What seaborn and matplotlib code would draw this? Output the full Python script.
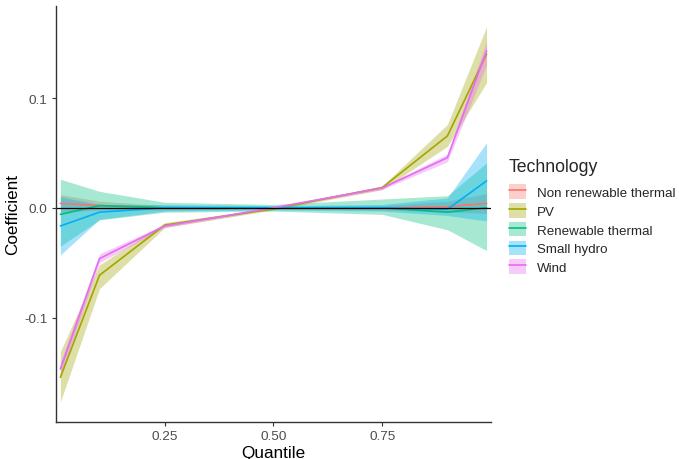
import matplotlib
matplotlib.use("Agg")
import matplotlib.pyplot as plt
from matplotlib.patches import Patch
from matplotlib.lines import Line2D
import pandas as pd
import seaborn as sns

quantiles = [0.01, 0.1, 0.25, 0.5, 0.75, 0.9, 0.99]
technologies = ["Non renewable thermal", "PV", "Renewable thermal", "Small hydro", "Wind"]

nrt_coef = [0.004, 0.002, 0.0, 0.0, 0.0, 0.001, 0.004]
nrt_low = [-0.004, -0.002, -0.002, -0.001, -0.002, -0.004, -0.005]
nrt_high = [0.012, 0.006, 0.002, 0.001, 0.002, 0.006, 0.013]

pv_coef = [-0.1545, -0.0615, -0.0157, -0.001, 0.0184, 0.0655, 0.140]
pv_low = [-0.177, -0.0737, -0.018, -0.002, 0.0165, 0.056, 0.114]
pv_high = [-0.131, -0.052, -0.0135, 0.0, 0.020, 0.076, 0.165]

rt_coef = [-0.006, 0.002, 0.0, 0.0, 0.0, -0.004, 0.0]
rt_low = [-0.035, -0.011, -0.004, -0.003, -0.006, -0.020, -0.039]
rt_high = [0.026, 0.015, 0.005, 0.003, 0.008, 0.011, 0.041]

sh_coef = [-0.0166, -0.004, 0.0, 0.0, 0.0, -0.0014, 0.0245]
sh_low = [-0.043, -0.0105, -0.003, -0.002, -0.003, -0.007, -0.012]
sh_high = [0.010, 0.003, 0.003, 0.002, 0.003, 0.009, 0.0594]

wind_coef = [-0.147, -0.0463, -0.0166, 0.0, 0.018, 0.0457, 0.143]
wind_low = [-0.153, -0.050, -0.018, -0.001, 0.0168, 0.042, 0.130]
wind_high = [-0.141, -0.042, -0.0152, 0.001, 0.0192, 0.049, 0.152]

colors = ["#F8766D", "#A3A500", "#00BF7D", "#00B0F6", "#E76BF3"]

series = {
    "Non renewable thermal": (nrt_coef, nrt_low, nrt_high),
    "PV": (pv_coef, pv_low, pv_high),
    "Renewable thermal": (rt_coef, rt_low, rt_high),
    "Small hydro": (sh_coef, sh_low, sh_high),
    "Wind": (wind_coef, wind_low, wind_high),
}

rows = []
for tech in technologies:
    c, lo, hi = series[tech]
    for q, v, l, h in zip(quantiles, c, lo, hi):
        rows.append({"Quantile": q, "Coefficient": v, "low": l, "high": h, "Technology": tech})
df = pd.DataFrame(rows)

sns.set_style("white")
plt.rcParams["font.family"] = ["Liberation Sans", "DejaVu Sans"]

fig = plt.figure(figsize=(6.79, 4.6), dpi=100)
ax = fig.add_axes([0.0825, 0.081, 0.6405, 0.904])

palette = dict(zip(technologies, colors))
for tech in technologies:
    sub = df[df["Technology"] == tech]
    ax.fill_between(sub["Quantile"], sub["low"], sub["high"], color=palette[tech],
                    alpha=0.35, linewidth=0)

sns.lineplot(data=df, x="Quantile", y="Coefficient", hue="Technology",
             palette=palette, hue_order=technologies, linewidth=1.2,
             legend=False, ax=ax)

ax.axhline(0, color="black", linewidth=0.9)

ax.set_xlim(0.0, 1.0)
ax.set_ylim(-0.195, 0.184)
ax.set_xticks([0.25, 0.50, 0.75])
ax.set_xticklabels(["0.25", "0.50", "0.75"])
ax.set_yticks([-0.1, 0.0, 0.1])
ax.set_yticklabels(["-0.1", "0.0", "0.1"])
ax.tick_params(axis="both", direction="out", length=3, width=0.8, color="#333333",
               labelcolor="#4D4D4D", labelsize=9.7, pad=3, left=True, bottom=True)
for side in ["top", "right"]:
    ax.spines[side].set_visible(False)
for side in ["left", "bottom"]:
    ax.spines[side].set_color("#333333")
    ax.spines[side].set_linewidth(1.0)

ax.set_xlabel("Quantile", fontsize=12.3, color="black", labelpad=2)
ax.set_ylabel("Coefficient", fontsize=12.3, color="black", labelpad=3)

handles = [(Patch(facecolor=c, alpha=0.35, linewidth=0), Line2D([], [], color=c, linewidth=1.2))
           for c in colors]
leg = fig.legend(handles, technologies, title="Technology", loc="upper left",
                 bbox_to_anchor=(0.749, 0.655), frameon=False, fontsize=9.6,
                 title_fontsize=12.7, handlelength=1.3, handleheight=1.3,
                 labelspacing=0.3, handletextpad=0.85, borderaxespad=0,
                 borderpad=0)
leg._legend_box.align = "left"
leg._legend_box.sep = 7

fig.savefig("out.png", dpi=100)
plt.close(fig)
